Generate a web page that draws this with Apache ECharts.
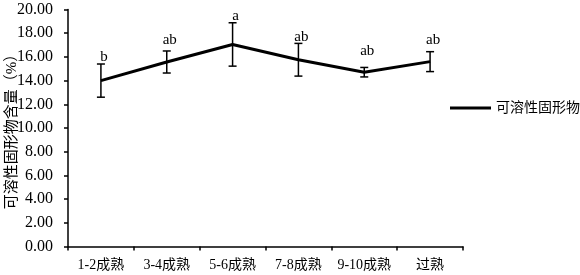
<!DOCTYPE html>
<html>
<head>
<meta charset="utf-8">
<script src="https://cdn.jsdelivr.net/npm/echarts@6/dist/echarts.min.js"></script>
<style>html,body{margin:0;padding:0;background:#fff}#c{width:580px;height:275px}</style>
</head>
<body>
<div id="c"></div>
<script>
const categories = ['1-2成熟', '3-4成熟', '5-6成熟', '7-8成熟', '9-10成熟', '过熟'];
const means = [14.0, 15.57, 17.05, 15.76, 14.71, 15.6];
const errors = [1.4, 0.93, 1.83, 1.38, 0.4, 0.84];
const letters = ['b', 'ab', 'a', 'ab', 'ab', 'ab'];
const seriesName = '可溶性固形物';
const yName = '可溶性固形物含量（%）';
const yMin = 0, yMax = 20, yInterval = 2;

const FONT = "'Liberation Serif','Noto Sans CJK SC',serif";
const chart = echarts.init(document.getElementById('c'), null, {renderer: 'canvas'});
chart.setOption({
  animation: false,
  backgroundColor: '#fff',
  grid: {left: 68, right: 117, top: 9.5, bottom: 28.5, containLabel: false, outerBoundsMode: 'none'},
  legend: {
    data: [seriesName], left: 450, top: 101, itemWidth: 41, itemHeight: 3, icon: 'rect', padding: 0,
    itemStyle: {color: '#000'},
    textStyle: {fontSize: 14, fontFamily: FONT, color: '#000'}
  },
  xAxis: {
    type: 'category', data: categories, boundaryGap: true,
    axisLine: {lineStyle: {color: '#000', width: 1.5}},
    axisTick: {show: true, alignWithLabel: false, interval: 0, length: 4, lineStyle: {color: '#000', width: 1.5}},
    axisLabel: {color: '#000', fontSize: 14, fontFamily: FONT, margin: 12, interval: 0}
  },
  yAxis: {
    type: 'value', min: yMin, max: yMax, interval: yInterval,
    name: yName, nameLocation: 'middle', nameRotate: 90, nameGap: 48, nameMoveOverlap: false,
    nameTextStyle: {fontSize: 15, fontFamily: FONT, color: '#000'},
    axisLine: {show: true, lineStyle: {color: '#000', width: 1.5}},
    axisTick: {show: true, length: 4, lineStyle: {color: '#000', width: 1.5}},
    splitLine: {show: false},
    axisLabel: {color: '#000', fontSize: 16, fontFamily: FONT, margin: 15, formatter: v => v.toFixed(2)}
  },
  series: [
    {
      type: 'custom',
      data: categories.map((c, i) => [i, means[i], errors[i]]),
      encode: {x: 0, y: 1},
      z: 1,
      renderItem: function (params, api) {
        const i = api.value(0), m = api.value(1), e = api.value(2);
        const top = api.coord([i, m + e]);
        const bot = api.coord([i, m - e]);
        const mid = api.coord([i, m]);
        const hw = 4;
        const labelY = Math.min(top[1] - 2, mid[1] - 17);
        const st = {stroke: '#000', lineWidth: 1.5};
        return {
          type: 'group',
          children: [
            {type: 'line', shape: {x1: top[0], y1: top[1], x2: bot[0], y2: bot[1]}, style: st},
            {type: 'line', shape: {x1: top[0] - hw, y1: top[1], x2: top[0] + hw, y2: top[1]}, style: st},
            {type: 'line', shape: {x1: bot[0] - hw, y1: bot[1], x2: bot[0] + hw, y2: bot[1]}, style: st},
            {type: 'text', style: {text: letters[i], x: top[0] + 3, y: labelY + 3, align: 'center', verticalAlign: 'bottom',
              font: "15px 'Liberation Serif'", fill: '#000'}}
          ]
        };
      }
    },
    {
      name: seriesName, type: 'line', data: means, symbol: 'none', showSymbol: false, z: 3,
      lineStyle: {color: '#000', width: 3}, itemStyle: {color: '#000'}
    }
  ]
});
</script>
</body>
</html>
